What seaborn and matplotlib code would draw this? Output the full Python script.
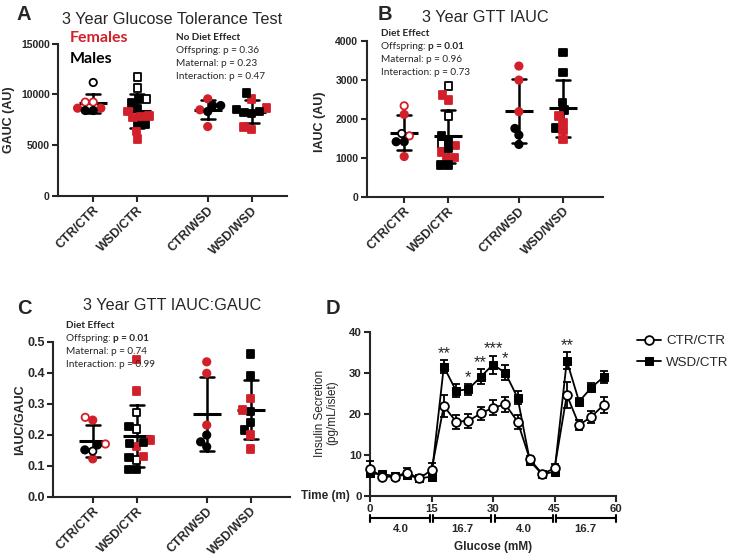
import numpy as np
import pandas as pd
import matplotlib
matplotlib.use("Agg")
import matplotlib.pyplot as plt
import seaborn as sns
from matplotlib.transforms import blended_transform_factory

# ---------------- data ----------------
groups = ["CTR/CTR", "WSD/CTR", "CTR/WSD", "WSD/WSD"]
group_pos = [0, 1, 2.6, 3.6]
group_markers = ["o", "s", "o", "s"]

# kinds: F = female (filled), M = male (filled), Fo / Mo = open symbols
gauc_group = [0]*7 + [1]*14 + [2]*6 + [3]*9
gauc_kind = ["Mo", "Fo", "Fo", "F", "F", "M", "M",
             "Mo", "Mo", "Mo", "M", "M", "M", "M", "M", "F", "F", "F", "F", "F", "F",
             "F", "F", "F", "M", "M", "M",
             "F", "F", "F", "F", "M", "M", "M", "M", "M"]
gauc_vals = [11180, 9250, 9250, 8650, 8650, 8420, 8420,
             11710, 10630, 9570, 9540, 9150, 8600, 7100, 7100, 8320, 7890, 7830, 7730, 6350, 5600,
             9570, 8490, 6840, 8910, 8910, 8320,
             9570, 8650, 6780, 6580, 10130, 8500, 8320, 8200, 8100]

iauc_group = [0]*7 + [1]*14 + [2]*6 + [3]*9
iauc_kind = ["F", "F", "Fo", "Fo", "Mo", "M", "M",
             "Mo", "Mo", "Mo", "F", "F", "F", "F", "F", "F", "M", "M", "M", "M", "M",
             "F", "F", "F", "M", "M", "M",
             "M", "M", "M", "M", "M", "F", "F", "F", "F"]
iauc_vals = [2110, 1030, 2330, 1560, 1620, 1410, 1410,
             2840, 2070, 1350, 2610, 2480, 1310, 1150, 1000, 1000, 1560, 1450, 1240, 810, 810,
             3350, 2990, 2180, 1750, 1580, 1340,
             3690, 3180, 2410, 2220, 1760, 2070, 1900, 1690, 1470]

ratio_group = [0]*7 + [1]*14 + [2]*6 + [3]*9
ratio_kind = ["F", "F", "Fo", "Fo", "M", "M", "Mo",
              "Mo", "Mo", "Mo", "F", "F", "F", "F", "F", "M", "M", "M", "M", "M", "M",
              "F", "F", "F", "M", "M", "M",
              "M", "M", "M", "M", "M", "F", "F", "F", "F"]
ratio_vals = [0.247, 0.122, 0.256, 0.170, 0.151, 0.167, 0.147,
              0.272, 0.218, 0.118, 0.443, 0.341, 0.183, 0.161, 0.129, 0.226, 0.175, 0.172, 0.127, 0.088, 0.088,
              0.435, 0.398, 0.231, 0.199, 0.177, 0.161,
              0.460, 0.389, 0.274, 0.240, 0.215, 0.317, 0.280, 0.199, 0.154]

time_pts = [0, 3, 6, 9, 12, 15, 18, 21, 24, 27, 30, 33, 36, 39, 42, 45, 48, 51, 54, 57]
ctr_mean = [6.6, 4.7, 4.7, 5.7, 4.3, 6.3, 21.9, 18.1, 18.3, 20.1, 21.5, 22.3, 18.1, 8.9, 5.4, 6.7, 24.6, 17.3, 19.3, 22.2]
ctr_sem = [2.0, 0.6, 0.6, 1.2, 0.5, 1.8, 2.7, 1.7, 1.7, 1.6, 1.8, 1.9, 1.7, 0.8, 0.5, 1.2, 3.2, 1.3, 1.5, 1.9]
wsd_mean = [5.5, 5.3, 4.9, 5.1, 4.3, 4.7, 31.5, 25.6, 26.0, 29.0, 32.0, 30.0, 23.9, 8.5, 5.3, 5.9, 32.9, 23.0, 26.4, 29.0]
wsd_sem = [0.8, 0.6, 0.5, 0.9, 0.5, 0.6, 1.6, 1.6, 1.3, 1.8, 2.2, 1.8, 1.6, 0.8, 0.5, 0.6, 2.1, 0.9, 1.2, 1.5]
star_times = [18, 24, 27, 30, 33, 48]
star_labels = ["**", "*", "**", "***", "*", "**"]
glucose_start = [0, 15, 30, 45]
glucose_end = [15, 30, 45, 60]
glucose_levels = ["4.0", "16.7", "4.0", "16.7"]

# ---------------- style ----------------
sns.set_style("ticks")
plt.rcParams["font.family"] = ["Liberation Sans", "DejaVu Sans"]
RED = "#d2202a"
W, H = 731, 556
fig = plt.figure(figsize=(W / 100, H / 100), dpi=100)
renderer = fig.canvas.get_renderer()
swarm_colls = []
MARKER_SIZE = 5.3
ANN_FAM = ["Lato", "DejaVu Sans"]


def fx(x):
    return x / W


def fy(y):
    return 1 - y / H


def add_ax(l, t, r, b):
    return fig.add_axes([fx(l), fy(b), (r - l) / W, (b - t) / H])


def scatter_panel(ax, vals, grp, kinds, ylim, yticks, xlim, ytsize, xtsize):
    df = pd.DataFrame({"pos": [group_pos[g] for g in grp], "val": vals,
                       "kind": kinds, "grp": grp})
    ax.set_xlim(*xlim)
    ax.set_ylim(*ylim)
    sns.pointplot(data=df, x="pos", y="val", native_scale=True, orient="x",
                  errorbar="sd", capsize=0.32, color="black", linestyle="none",
                  marker="_", markersize=20, markeredgewidth=2.2,
                  err_kws={"linewidth": 1.8}, ax=ax)
    for g in range(4):
        sub = df[df.grp == g]
        # swarm laid out with slightly smaller symbols (GraphPad-like packing)
        sns.swarmplot(data=sub, x="pos", y="val", native_scale=True, orient="x",
                      marker=group_markers[g], size=4.2, color="black", ax=ax,
                      zorder=3, warn_thresh=1)
        coll = ax.collections[-1]
        faces = ["white" if k.endswith("o") else (RED if k[0] == "F" else "black")
                 for k in sub.kind]
        edges = [RED if k[0] == "F" else "black" for k in sub.kind]
        coll.set_facecolors(faces)
        coll.set_edgecolors(edges)
        coll.set_linewidths(1.3)
        swarm_colls.append(coll)
    ax.set_xlim(*xlim)
    ax.set_ylim(*ylim)
    ax.set_yticks(yticks)
    ax.set_xticks(group_pos)
    ax.set_xticklabels(groups, rotation=45, ha="right", rotation_mode="anchor",
                       fontweight="bold", fontsize=xtsize)
    for lab in ax.get_yticklabels():
        lab.set_fontweight("bold")
        lab.set_fontsize(ytsize)
    for s in ["top", "right"]:
        ax.spines[s].set_visible(False)
    for s in ["left", "bottom"]:
        ax.spines[s].set_linewidth(1.5)
    ax.tick_params(width=1.5, length=4, pad=2)
    ax.set_xlabel("")
    ax.set_ylabel("")


def stats_text(x, y0, header, lines, bold_line=None):
    fig.text(fx(x), fy(y0), header, ha="left", va="center", fontsize=7.2,
             fontweight="bold", family=ANN_FAM)
    for i, (lab, val) in enumerate(lines):
        yy = fy(y0 + 12.7 * (i + 1))
        t = fig.text(fx(x), yy, lab + " ", ha="left", va="center", fontsize=7.2,
                     family=ANN_FAM)
        bb = t.get_window_extent(renderer)
        fig.text(bb.x1 / W, yy, val, ha="left", va="center", fontsize=7.2,
                 family=ANN_FAM, fontweight="bold" if i == bold_line else "normal")


# ---------------- Panel A ----------------
axA = add_ax(58, 43.7, 287, 196)
scatter_panel(axA, gauc_vals, gauc_group, gauc_kind, (0, 15000),
              [0, 5000, 10000, 15000], (-0.8, 4.4), 7.5, 9)
fig.text(fx(172.5), fy(20), "3 Year Glucose Tolerance Test", ha="center", va="center", fontsize=11.7)
fig.text(fx(24), fy(14), "A", ha="center", va="center", fontsize=14.5, fontweight="bold")
fig.text(fx(9), fy(120), "GAUC (AU)", rotation=90, ha="center", va="center",
         fontsize=9, fontweight="bold")
fig.text(fx(70), fy(38), "Females", ha="left", va="center", fontsize=11.5,
         fontweight="bold", color=RED, family=ANN_FAM)
fig.text(fx(70), fy(59), "Males", ha="left", va="center", fontsize=11.5,
         fontweight="bold", color="black", family=ANN_FAM)
stats_text(176, 38, "No Diet Effect",
           [("Offspring:", "p = 0.36"), ("Maternal:", "p = 0.23"), ("Interaction:", "p = 0.47")])

# ---------------- Panel B ----------------
axB = add_ax(366.7, 40.7, 602.7, 196.7)
scatter_panel(axB, iauc_vals, iauc_group, iauc_kind, (0, 4000),
              [0, 1000, 2000, 3000, 4000], (-0.85, 4.5), 7.5, 9)
fig.text(fx(485), fy(17), "3 Year GTT IAUC", ha="center", va="center", fontsize=11.7)
fig.text(fx(385), fy(14), "B", ha="center", va="center", fontsize=14.5, fontweight="bold")
fig.text(fx(320), fy(122), "IAUC (AU)", rotation=90, ha="center", va="center",
         fontsize=9, fontweight="bold")
stats_text(381, 34, "Diet Effect",
           [("Offspring:", "p = 0.01"), ("Maternal:", "p = 0.96"), ("Interaction:", "p = 0.73")],
           bold_line=0)

# ---------------- Panel C ----------------
axC = add_ax(53.3, 341.7, 290, 496.7)
scatter_panel(axC, ratio_vals, ratio_group, ratio_kind, (0, 0.5),
              [0.0, 0.1, 0.2, 0.3, 0.4, 0.5], (-0.9, 4.5), 9, 9)
fig.text(fx(172), fy(306), "3 Year GTT IAUC:GAUC", ha="center", va="center", fontsize=11.7)
fig.text(fx(24), fy(308), "C", ha="center", va="center", fontsize=14.5, fontweight="bold")
fig.text(fx(20), fy(420), "IAUC/GAUC", rotation=90, ha="center", va="center",
         fontsize=9, fontweight="bold")
stats_text(65.7, 326, "Diet Effect",
           [("Offspring:", "p = 0.01"), ("Maternal:", "p = 0.74"), ("Interaction:", "p = 0.99")],
           bold_line=0)

# ---------------- Panel D ----------------
axD = add_ax(370, 331.7, 616, 496)
axD.errorbar(time_pts, wsd_mean, yerr=wsd_sem, fmt="none", ecolor="black",
             elinewidth=1.3, capsize=3, capthick=1.3, zorder=2, clip_on=False)
sns.lineplot(x=time_pts, y=wsd_mean, ax=axD, color="black", marker="s",
             markersize=5.5, markerfacecolor="black", markeredgecolor="black",
             linewidth=1.3, label="WSD/CTR", zorder=3, clip_on=False)
axD.errorbar(time_pts, ctr_mean, yerr=ctr_sem, fmt="none", ecolor="black",
             elinewidth=1.3, capsize=3, capthick=1.3, zorder=4, clip_on=False)
sns.lineplot(x=time_pts, y=ctr_mean, ax=axD, color="black", marker="o",
             markersize=6.3, markerfacecolor="white", markeredgecolor="black",
             markeredgewidth=1.3, linewidth=1.3, label="CTR/CTR", zorder=5, clip_on=False)
for t, lab in zip(star_times, star_labels):
    i = time_pts.index(t)
    axD.text(t, wsd_mean[i] + wsd_sem[i] - 0.2, lab, ha="center", va="bottom", fontsize=12)
axD.set_xlim(0, 60)
axD.set_ylim(0, 40)
axD.set_xticks([0, 15, 30, 45, 60])
axD.set_yticks([0, 10, 20, 30, 40])
for lab in axD.get_xticklabels() + axD.get_yticklabels():
    lab.set_fontweight("bold")
    lab.set_fontsize(8.2)
for s in ["top", "right"]:
    axD.spines[s].set_visible(False)
for s in ["left", "bottom"]:
    axD.spines[s].set_linewidth(1.5)
axD.tick_params(width=1.5, length=4, pad=2)
axD.set_xlabel("")
axD.set_ylabel("")
handles, labels = axD.get_legend_handles_labels()
order = [labels.index("CTR/CTR"), labels.index("WSD/CTR")]
axD.legend([handles[k] for k in order], [labels[k] for k in order],
           loc="upper left", bbox_to_anchor=(fx(637), fy(335)),
           bbox_transform=fig.transFigure, frameon=False, fontsize=9.6,
           handlelength=1.8, handletextpad=0.4, labelspacing=0.7,
           borderpad=0, borderaxespad=0)
trans = blended_transform_factory(axD.transData, axD.transAxes)
gap = 0.4
for s, e, lev in zip(glucose_start, glucose_end, glucose_levels):
    a, b = s + (gap if s > 0 else 0), e - (gap if e < 60 else 0)
    axD.plot([a, b], [-0.136, -0.136], color="black", lw=1.5, transform=trans, clip_on=False)
    for xx in (a, b):
        axD.plot([xx, xx], [-0.156, -0.116], color="black", lw=1.5, transform=trans, clip_on=False)
    axD.text((s + e) / 2, -0.203, lev, ha="center", va="center", fontsize=8.2,
             fontweight="bold", transform=trans)
axD.text(30, -0.309, "Glucose (mM)", ha="center", va="center", fontsize=8.5,
         fontweight="bold", transform=trans)
fig.text(fx(350), fy(496), "Time (m)", ha="right", va="center", fontsize=8.5, fontweight="bold")
fig.text(fx(333), fy(308), "D", ha="center", va="center", fontsize=14.5, fontweight="bold")
fig.text(fx(326), fy(413), "Insulin Secretion\n(pg/mL/islet)", rotation=90, ha="center",
         va="center", fontsize=8.5, linespacing=1.1)

# lay out the swarms once, then freeze positions and enlarge the symbols
fig.canvas.draw()
for c in swarm_colls:
    if "draw" in c.__dict__:
        del c.__dict__["draw"]
    c.set_sizes([MARKER_SIZE ** 2])

fig.savefig("out.png", dpi=100)
